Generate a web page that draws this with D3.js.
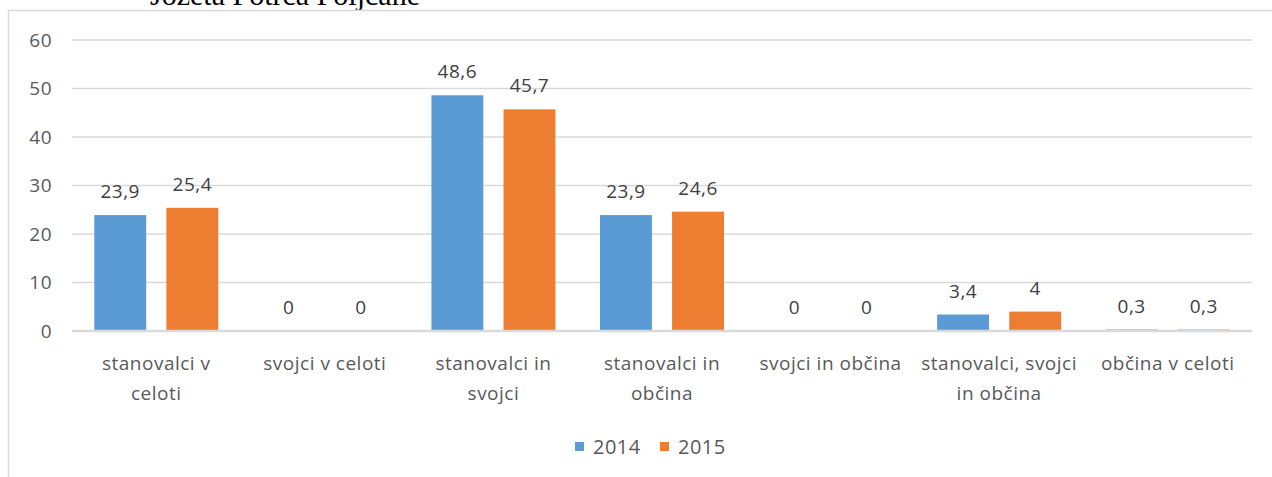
<!DOCTYPE html>
<html>
<head>
<meta charset="utf-8">
<script src="https://cdn.jsdelivr.net/npm/d3@7"></script>
<style>
  body { margin: 0; background: #fff; }
  svg { display: block; }
</style>
</head>
<body>
<script>
// podatki
var categories = ["stanovalci v\nceloti", "svojci v celoti", "stanovalci in\nsvojci", "stanovalci in\nobčina",
  "svojci in občina", "stanovalci, svojci\nin občina", "občina v celoti"];
var seriesNames = ["2014", "2015"];
var values2014 = [23.9, 0, 48.6, 23.9, 0, 3.4, 0.3];
var values2015 = [25.4, 0, 45.7, 24.6, 0, 4, 0.3];
var yTicks = [0, 10, 20, 30, 40, 50, 60];
var colors = ["#5b9bd5", "#ed7d31"];

var W = 1272, H = 477;
// pozor: "top" je rezervirano v oknu
var plotLeft = 72, plotRight = 1252, plotTop = 40, plotBottom = 331;
var textColor = "#595959";
var font = "'Open Sans', sans-serif";

var svg = d3.select("body").append("svg")
  .attr("width", W)
  .attr("height", H);

// naslov, ki je odrezan zgoraj
svg.append("text")
  .attr("x", 285)
  .attr("y", 5)
  .attr("text-anchor", "middle")
  .style("font-family", "'Liberation Serif', serif")
  .style("font-size", "30px")
  .attr("fill", "#000")
  .text("Jožeta Potrča Poljčane");

// okvir grafa
svg.append("path")
  .attr("d", "M8.5," + H + " V10.5 H" + W)
  .attr("fill", "#fff")
  .attr("stroke", "#d9d9d9")
  .attr("stroke-width", 1.5);

var yScale = d3.scaleLinear().domain([0, 60]).range([plotBottom, plotTop]);
var xScale = d3.scaleBand().domain(d3.range(categories.length)).range([plotLeft, plotRight]);
var inner = d3.scaleBand().domain([0, 1]).range([0, 124]).paddingInner(0.28);

// mreža
svg.append("g").selectAll("line")
  .data(yTicks.filter(function(d) { return d > 0; }))
  .enter().append("line")
  .attr("x1", plotLeft).attr("x2", plotRight)
  .attr("y1", function(d) { return yScale(d); })
  .attr("y2", function(d) { return yScale(d); })
  .attr("stroke", "#d9d9d9")
  .attr("stroke-width", 1.5);

// y os
var yAxis = d3.axisLeft(yScale).tickValues(yTicks).tickSize(0).tickPadding(20);
var gy = svg.append("g").attr("transform", "translate(" + plotLeft + ",0)").call(yAxis);
gy.select(".domain").remove();
gy.selectAll("text")
  .attr("fill", textColor)
  .style("font-family", font)
  .style("font-size", "19px")
  .style("letter-spacing", "0.5px");

// stolpci
var seriesData = [values2014, values2015];
var groups = svg.append("g").selectAll("g")
  .data(seriesData)
  .enter().append("g")
  .attr("fill", function(d, i) { return colors[i]; });

groups.each(function(vals, s) {
  var g = d3.select(this);
  var offset = (xScale.bandwidth() - 124) / 2;
  g.selectAll("rect")
    .data(vals)
    .enter().append("rect")
    .attr("x", function(d, i) { return xScale(i) + offset + inner(s); })
    .attr("width", inner.bandwidth())
    .attr("y", function(d) { return yScale(d); })
    .attr("height", function(d) { return plotBottom - yScale(d); });

  g.selectAll("text")
    .data(vals)
    .enter().append("text")
    .attr("x", function(d, i) { return xScale(i) + offset + inner(s) + inner.bandwidth() / 2; })
    .attr("y", function(d) { return yScale(d) - 17; })
    .attr("text-anchor", "middle")
    .attr("fill", "#404040")
    .style("font-family", font)
    .style("font-size", "19px")
    .style("letter-spacing", "0.5px")
    .text(function(d) { return String(d).replace(".", ","); });
});

// ničelna os
svg.append("line")
  .attr("x1", plotLeft).attr("x2", plotRight)
  .attr("y1", yScale(0)).attr("y2", yScale(0))
  .attr("stroke", "#d9d9d9")
  .attr("stroke-width", 2.5);

// oznake kategorij
var catLabels = svg.append("g").selectAll("text")
  .data(categories)
  .enter().append("text")
  .attr("text-anchor", "middle")
  .attr("fill", textColor)
  .style("font-family", font)
  .style("font-size", "19px")
  .style("letter-spacing", "0.5px");

catLabels.each(function(c, i) {
  var t = d3.select(this);
  c.split("\n").forEach(function(line, k) {
    t.append("tspan")
      .attr("x", xScale(i) + xScale.bandwidth() / 2)
      .attr("y", 370 + k * 30)
      .text(line);
  });
});

// legenda
var legendX = [575, 660];
var legend = svg.append("g").selectAll("g")
  .data(seriesNames)
  .enter().append("g")
  .attr("transform", function(d, i) { return "translate(" + legendX[i] + ",442)"; });
legend.append("rect")
  .attr("width", 9).attr("height", 9)
  .attr("fill", function(d, i) { return colors[i]; });
legend.append("text")
  .attr("x", 18)
  .attr("y", 12)
  .attr("fill", textColor)
  .style("font-family", font)
  .style("font-size", "20px")
  .style("letter-spacing", "0.5px")
  .text(function(d) { return d; });
</script>
</body>
</html>
